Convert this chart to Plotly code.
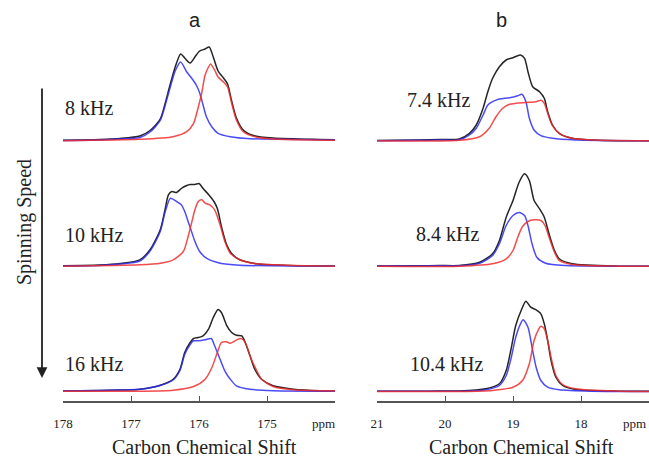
import plotly.graph_objects as go

# ---------------- data (ppm, intensity a.u.) ----------------
# Panel a (carbonyl), 8 kHz
a1_black_x = [178.0, 177.46, 177.16, 176.87, 176.72, 176.57, 176.50, 176.43, 176.35, 176.27, 176.21, 176.13, 176.06, 175.99, 175.91, 175.85, 175.79, 175.72, 175.64, 175.58, 175.52, 175.45, 175.35, 175.20, 174.91, 174.22, 174.0]
a1_black_y = [0.8, 1.5, 2.5, 5, 10.5, 22, 37, 55, 74, 87, 83, 78, 84, 90, 92, 94, 84, 70, 63, 57, 40, 23, 11, 5.5, 3, 1.5, 1.2]
a1_blue_x = [178.0, 177.46, 177.16, 176.87, 176.72, 176.57, 176.50, 176.43, 176.35, 176.27, 176.18, 176.11, 176.04, 175.99, 175.94, 175.89, 175.81, 175.72, 175.54, 175.25, 174.22, 174.0]
a1_blue_y = [0.5, 1, 2, 3.5, 9, 20.5, 35, 52, 70, 79, 69, 63, 56, 48, 36, 24, 14, 7.7, 4.3, 2.3, 1.3, 1]
a1_red_x = [178.0, 176.87, 176.38, 176.18, 176.08, 176.01, 175.96, 175.91, 175.86, 175.83, 175.77, 175.72, 175.64, 175.58, 175.52, 175.45, 175.35, 175.15, 174.91, 174.0]
a1_red_y = [0.3, 1.7, 4.3, 9.3, 17.7, 34, 48, 66, 74, 77, 71, 64, 59, 54, 38, 21, 9.3, 3.7, 2, 0.7]

# Panel a, 10 kHz
a2_black_x = [178.0, 177.46, 177.16, 176.87, 176.72, 176.57, 176.50, 176.45, 176.40, 176.33, 176.26, 176.18, 176.13, 176.06, 176.00, 175.94, 175.86, 175.78, 175.73, 175.67, 175.60, 175.52, 175.40, 175.15, 174.66, 174.0]
a2_black_y = [0.8, 1.5, 3, 6.7, 16.7, 36.7, 56.7, 71.7, 75, 74, 78, 81, 82, 82, 83, 78, 72, 65, 58, 40, 23, 13, 6.7, 2.7, 1, 0.5]
a2_blue_x = [178.0, 177.46, 177.16, 176.87, 176.72, 176.57, 176.50, 176.42, 176.33, 176.26, 176.21, 176.16, 176.11, 176.06, 175.99, 175.89, 175.69, 175.40, 174.0]
a2_blue_y = [0.5, 1, 2.5, 5.5, 15.5, 35, 54, 68.3, 65, 61.7, 55, 45, 35, 25, 15, 8.3, 3.3, 1.3, 0.3]
a2_red_x = [178.0, 176.87, 176.57, 176.38, 176.23, 176.16, 176.11, 176.06, 176.01, 175.96, 175.91, 175.84, 175.77, 175.69, 175.62, 175.54, 175.40, 175.15, 174.0]
a2_red_y = [0.3, 1.7, 3.3, 6.7, 15, 30, 43.3, 56.7, 65, 66.7, 63.3, 61.7, 56.7, 41.7, 25, 13.3, 6.7, 2.7, 0.3]

# Panel a, 16 kHz
a3_black_x = [178.0, 177.46, 177.16, 176.87, 176.57, 176.38, 176.28, 176.21, 176.13, 176.08, 176.01, 175.94, 175.86, 175.79, 175.72, 175.67, 175.59, 175.52, 175.45, 175.37, 175.33, 175.25, 175.18, 175.08, 174.91, 174.61, 174.22, 174.0]
a3_black_y = [0.5, 1, 1.5, 2.3, 6.3, 12.3, 22.3, 39, 49, 53, 54, 55.7, 62.3, 74, 82, 79, 65.7, 59, 56.3, 55.7, 50.7, 35.7, 22.3, 12.3, 5.7, 2.3, 0.7, 0.5]
a3_blue_x = [178.0, 177.46, 177.16, 176.87, 176.57, 176.38, 176.28, 176.21, 176.13, 176.08, 176.01, 175.91, 175.82, 175.77, 175.69, 175.62, 175.54, 175.45, 175.25, 174.91, 174.0]
a3_blue_y = [0.5, 1, 1.5, 2.3, 6, 11.5, 21, 37, 47, 50.7, 50.7, 51.7, 53, 45.7, 32.3, 20.7, 12.3, 5.7, 2.3, 0.7, 0.3]
a3_red_x = [178.0, 176.87, 176.38, 176.08, 175.91, 175.81, 175.73, 175.67, 175.60, 175.54, 175.47, 175.40, 175.35, 175.30, 175.23, 175.15, 175.08, 174.91, 174.61, 174.0]
a3_red_y = [0.3, 0.3, 1.3, 5, 12.3, 24, 39, 49, 49.7, 48.3, 50.7, 53, 51.7, 45.7, 32.3, 20.7, 12.3, 5, 1.7, 0.5]

# Panel b (methyl), 7.4 kHz
b1_black_x = [21.0, 20.37, 20.08, 19.79, 19.64, 19.54, 19.44, 19.37, 19.30, 19.20, 19.10, 19.00, 18.89, 18.83, 18.78, 18.71, 18.61, 18.54, 18.49, 18.42, 18.32, 18.13, 17.83, 17.44, 17.0]
b1_black_y = [0.5, 1, 1.5, 2, 7.7, 16, 32.7, 49.3, 62.7, 74.3, 81, 83.3, 86, 82.7, 69.3, 54.3, 49.3, 42.7, 29.3, 16, 7.7, 2.7, 1, 0.3, 0.3]
b1_blue_x = [21.0, 20.37, 20.08, 19.79, 19.64, 19.54, 19.44, 19.37, 19.30, 19.20, 19.05, 18.93, 18.87, 18.81, 18.76, 18.69, 18.59, 18.42, 18.08, 17.0]
b1_blue_y = [0.3, 0.7, 1, 1.3, 6, 12.7, 26, 36, 39.3, 42, 43.3, 45.3, 46.7, 39.3, 22.7, 11, 5.3, 2.7, 1, 0.3]
b1_red_x = [21.0, 19.79, 19.49, 19.35, 19.25, 19.15, 19.05, 18.96, 18.86, 18.76, 18.66, 18.59, 18.54, 18.49, 18.42, 18.32, 18.13, 17.83, 17.0]
b1_red_y = [0.2, 0.7, 4.3, 12.7, 24.3, 32.7, 36.7, 37.7, 38.3, 38.7, 39.3, 40.7, 37.7, 27.7, 15.3, 7.7, 2.7, 1, 0.3]

# Panel b, 8.4 kHz
b2_black_x = [21.0, 20.37, 20.08, 19.79, 19.49, 19.30, 19.20, 19.10, 19.00, 18.91, 18.83, 18.76, 18.69, 18.61, 18.54, 18.47, 18.39, 18.32, 18.13, 17.44, 17.0]
b2_black_y = [0.5, 0.7, 1, 1, 4.3, 12.7, 26, 49.3, 66, 84.3, 92.7, 86, 66, 57.7, 49.3, 32.7, 16, 7.7, 2.7, 0.3, 0.2]
b2_blue_x = [21.0, 20.37, 20.08, 19.79, 19.49, 19.30, 19.20, 19.10, 19.00, 18.91, 18.83, 18.78, 18.72, 18.65, 18.52, 18.22, 17.0]
b2_blue_y = [0.4, 0.6, 0.8, 0.7, 3.3, 11, 22.7, 41, 51, 54, 51, 41, 22.7, 9.3, 3.3, 1, 0.2]
b2_red_x = [21.0, 19.79, 19.30, 19.10, 19.00, 18.93, 18.86, 18.78, 18.69, 18.59, 18.53, 18.47, 18.39, 18.32, 18.13, 17.44, 17.0]
b2_red_y = [0.2, 0.3, 2.7, 7.7, 16, 29.3, 40, 45, 46.7, 46, 41, 29.3, 14.3, 6, 2, 0.3, 0.2]

# Panel b, 10.4 kHz
b3_black_x = [21.0, 20.37, 20.08, 19.79, 19.40, 19.20, 19.10, 19.03, 18.96, 18.88, 18.81, 18.74, 18.66, 18.59, 18.54, 18.49, 18.44, 18.37, 18.27, 18.08, 17.44, 17.0]
b3_black_y = [0.2, 0.3, 0.4, 0.5, 2.7, 7.7, 21, 42, 66, 81, 90.3, 84.3, 81.7, 77.7, 67.7, 51, 31, 14.3, 6, 2, 0.3, 0.2]
b3_blue_x = [21.0, 20.37, 20.08, 19.79, 19.40, 19.20, 19.10, 19.03, 18.96, 18.89, 18.85, 18.78, 18.72, 18.66, 18.59, 18.49, 18.32, 17.83, 17.0]
b3_blue_y = [0.2, 0.3, 0.3, 0.2, 1.7, 6, 16, 32.7, 54.3, 67.7, 71.7, 64.3, 44.3, 24.3, 11, 4.3, 1.7, 0.3, 0]
b3_red_x = [21.0, 19.79, 19.30, 19.00, 18.86, 18.76, 18.69, 18.62, 18.59, 18.54, 18.49, 18.43, 18.37, 18.27, 18.08, 17.44, 17.0]
b3_red_y = [0, 0, 1, 4.3, 11, 27.7, 51, 62.7, 65.3, 62.7, 51, 31, 16, 7, 2.7, 0.3, 0]

speeds_a = ["8 kHz", "10 kHz", "16 kHz"]
speeds_b = ["7.4 kHz", "8.4 kHz", "10.4 kHz"]
ticks_a = [178, 177, 176, 175, 174]
ticklabels_a = ["178", "177", "176", "175", ""]
ticks_b = [21, 20, 19, 18, 17]
ticklabels_b = ["21", "20", "19", "18", ""]

# ---------------- layout helpers ----------------
W, H = 649, 457
def px(x): return x / W
def py(y): return 1 - y / H

SERIF = "Liberation Serif, Times New Roman, serif"
SANS = "Liberation Sans, Arial, sans-serif"
C_BLACK = "rgba(25,25,25,0.95)"
C_BLUE = "rgba(45,45,245,0.85)"
C_RED = "rgba(240,45,45,0.85)"

baselines = [141, 266.5, 391.5]   # pixel rows of spectrum baselines
YLO, YHI = -3, 100

panels = {
    "a": [(a1_black_x, a1_black_y, a1_blue_x, a1_blue_y, a1_red_x, a1_red_y),
          (a2_black_x, a2_black_y, a2_blue_x, a2_blue_y, a2_red_x, a2_red_y),
          (a3_black_x, a3_black_y, a3_blue_x, a3_blue_y, a3_red_x, a3_red_y)],
    "b": [(b1_black_x, b1_black_y, b1_blue_x, b1_blue_y, b1_red_x, b1_red_y),
          (b2_black_x, b2_black_y, b2_blue_x, b2_blue_y, b2_red_x, b2_red_y),
          (b3_black_x, b3_black_y, b3_blue_x, b3_blue_y, b3_red_x, b3_red_y)],
}

fig = go.Figure()
layout = {}
for ci, key in enumerate(["a", "b"]):
    xname = "x" if ci == 0 else "x2"
    for ri, spec in enumerate(panels[key]):
        yi = ci * 3 + ri + 1
        yname = "y" if yi == 1 else f"y{yi}"
        bx, by, ux, uy, rx, ry = spec
        for xs, ys, col in [(bx, by, C_BLACK), (ux, uy, C_BLUE), (rx, ry, C_RED)]:
            fig.add_trace(go.Scatter(x=xs, y=ys, xaxis=xname, yaxis=yname, mode="lines",
                                     line=dict(color=col, width=1.5, shape="spline", smoothing=0.7),
                                     hoverinfo="skip", showlegend=False))
        base = baselines[ri]
        layout["yaxis" if yi == 1 else f"yaxis{yi}"] = dict(
            domain=[py(base + (0 - YLO)), py(base - YHI)], range=[YLO, YHI],
            anchor=xname, visible=False, fixedrange=True, automargin=False)

axis_common = dict(anchor="free", position=py(402), showline=True, linecolor="#555", linewidth=1.5,
                   ticks="inside", ticklen=5, tickwidth=1.3, tickcolor="#555", showgrid=False,
                   zeroline=False, tickfont=dict(family=SERIF, size=13, color="#222"),
                   ticklabelstandoff=10, automargin=False)
layout["xaxis"] = dict(axis_common, domain=[px(63), px(335)], range=[178, 174],
                       tickvals=ticks_a, ticktext=ticklabels_a)
layout["xaxis2"] = dict(axis_common, domain=[px(377), px(649)], range=[21, 17],
                        tickvals=ticks_b, ticktext=ticklabels_b)

ann = []
# speed labels
for ri, ya in enumerate([108, 235, 364]):
    ann.append(dict(x=px(63), y=py(ya), text=speeds_a[ri], xanchor="left", yanchor="middle",
                    font=dict(family=SERIF, size=20, color="#222")))
for ri, yb in enumerate([100, 234, 364]):
    xl = [405, 414, 408][ri]
    ann.append(dict(x=px(xl), y=py(yb), text=speeds_b[ri], xanchor="left", yanchor="middle",
                    font=dict(family=SERIF, size=20, color="#222")))
# panel letters
ann.append(dict(x=px(195), y=py(20), text="a", xanchor="center", yanchor="middle",
                font=dict(family=SANS, size=20, color="#222")))
ann.append(dict(x=px(501), y=py(20), text="b", xanchor="center", yanchor="middle",
                font=dict(family=SANS, size=20, color="#222")))
# ppm unit labels
ann.append(dict(x=px(323), y=py(423), text="ppm", xanchor="center", yanchor="middle",
                font=dict(family=SERIF, size=13, color="#222")))
ann.append(dict(x=px(634), y=py(423), text="ppm", xanchor="center", yanchor="middle",
                font=dict(family=SERIF, size=13, color="#222")))
# axis titles
ann.append(dict(x=px(204), y=py(447), text="Carbon Chemical Shift", xanchor="center", yanchor="middle",
                font=dict(family=SERIF, size=20, color="#222")))
ann.append(dict(x=px(521), y=py(447), text="Carbon Chemical Shift", xanchor="center", yanchor="middle",
                font=dict(family=SERIF, size=20, color="#222")))
# Spinning speed label and arrow
ann.append(dict(x=px(24), y=py(222), text="Spinning Speed", textangle=-90, xanchor="center",
                yanchor="middle", font=dict(family=SERIF, size=20, color="#222")))
ann.append(dict(x=px(42), y=py(378), ax=0, ay=-291, axref="pixel", ayref="pixel",
                text="", showarrow=True, arrowhead=2, arrowsize=1.2, arrowwidth=1.8,
                arrowcolor="#222"))
for a in ann:
    a.setdefault("showarrow", False)
    a["xref"] = "paper"
    a["yref"] = "paper"

fig.update_layout(template=go.layout.Template(), width=W, height=H,
                  margin=dict(l=0, r=0, t=0, b=0, pad=0, autoexpand=False), autosize=False,
                  paper_bgcolor="white", plot_bgcolor="white", annotations=ann, **layout)

fig.write_html("out.html", config={"responsive": False, "displayModeBar": False},
               post_script="document.body.style.margin='0';document.body.style.padding='0';"
                           "document.documentElement.style.overflow='hidden';")
